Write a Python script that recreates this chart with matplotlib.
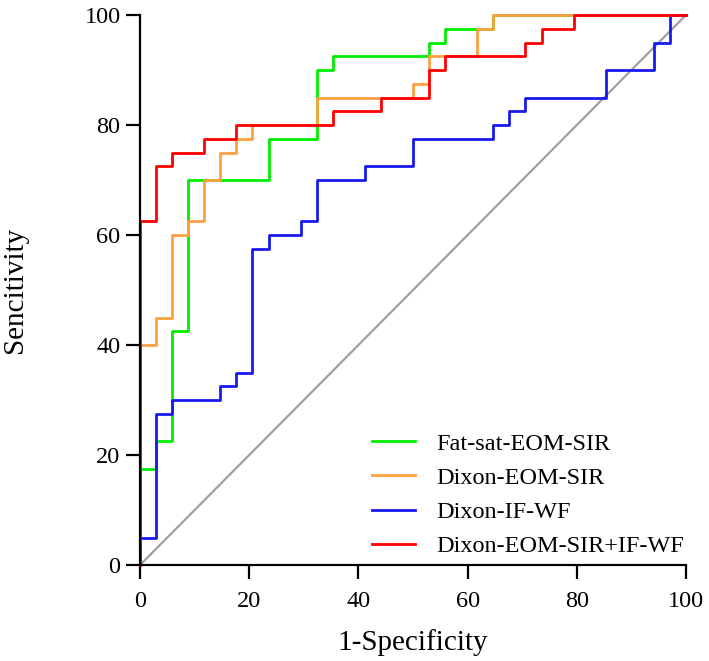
import matplotlib
import matplotlib.pyplot as plt

matplotlib.use("Agg")

# ROC vertices (1-Specificity %, Sensitivity %)
fatsat_fpr = [0, 0, 2.94, 5.88, 8.82, 23.53, 32.35, 35.29, 52.94, 55.88, 64.71, 100]
fatsat_tpr = [0, 17.5, 22.5, 42.5, 70, 77.5, 90, 92.5, 95, 97.5, 100, 100]

dixon_fpr = [0, 0, 2.94, 5.88, 8.82, 11.76, 14.71, 17.65, 20.59, 32.35, 50, 52.94,
             61.76, 64.71, 100]
dixon_tpr = [0, 40, 45, 60, 62.5, 70, 75, 77.5, 80, 85, 87.5, 92.5, 97.5, 100, 100]

ifwf_fpr = [0, 0, 2.94, 5.88, 14.71, 17.65, 20.59, 23.53, 29.41, 32.35, 41.18, 50,
            64.71, 67.65, 70.59, 85.29, 94.12, 97.06, 100]
ifwf_tpr = [0, 5, 27.5, 30, 32.5, 35, 57.5, 60, 62.5, 70, 72.5, 77.5, 80, 82.5, 85,
            90, 95, 100, 100]

combo_fpr = [0, 0, 2.94, 5.88, 11.76, 17.65, 35.29, 44.12, 52.94, 55.88, 70.59,
             73.53, 79.41, 100]
combo_tpr = [0, 62.5, 72.5, 75, 77.5, 80, 82.5, 85, 90, 92.5, 95, 97.5, 100, 100]

labels = ["Fat-sat-EOM-SIR", "Dixon-EOM-SIR", "Dixon-IF-WF", "Dixon-EOM-SIR+IF-WF"]
colors = ["#00ee00", "#ffa040", "#1a1aee", "#ff0000"]

plt.rcParams["font.family"] = ["Liberation Serif", "DejaVu Serif"]

fig = plt.figure(figsize=(7.09, 6.61), dpi=100)
ax = fig.add_axes([0.1975, 0.1452, 0.7701, 0.8321])

# reference line
ax.plot([0, 100], [0, 100], color="#a0a0a0", lw=1.6, zorder=1, clip_on=False)

curves = [
    (fatsat_fpr, fatsat_tpr),
    (dixon_fpr, dixon_tpr),
    (ifwf_fpr, ifwf_tpr),
    (combo_fpr, combo_tpr),
]
for (fpr, tpr), lab, col in zip(curves, labels, colors):
    ax.plot(fpr, tpr, drawstyle="steps-post", color=col, lw=2.0, label=lab,
            clip_on=False, zorder=2)

ax.set_xlim(0, 100)
ax.set_ylim(0, 100)
ax.set_xticks([0, 20, 40, 60, 80, 100])
ax.set_yticks([0, 20, 40, 60, 80, 100])
ax.spines["top"].set_visible(False)
ax.spines["right"].set_visible(False)
for s in ["left", "bottom"]:
    ax.spines[s].set_linewidth(1.6)
ax.tick_params(axis="both", length=10, width=1.6, labelsize=17.5)
ax.tick_params(axis="x", pad=9)
ax.tick_params(axis="y", pad=4)

ax.set_xlabel("1-Specificity", fontsize=21, labelpad=12)
ax.set_ylabel("Sencitivity", fontsize=21, labelpad=41)

ax.legend(loc="lower left", bbox_to_anchor=(0.425, 0.014), frameon=False,
          fontsize=17.5, handlelength=1.75, handletextpad=0.9, labelspacing=0.5,
          borderpad=0, borderaxespad=0)

fig.savefig("out.png", dpi=100)
